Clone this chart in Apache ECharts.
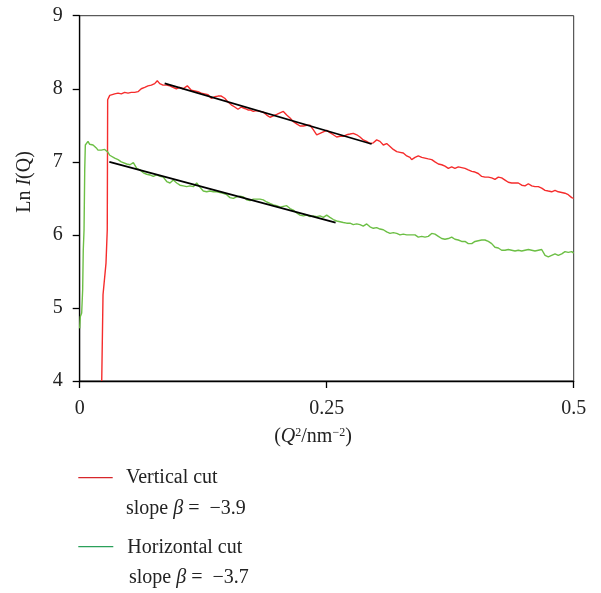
<!DOCTYPE html>
<html>
<head>
<meta charset="utf-8">
<script src="https://cdn.jsdelivr.net/npm/echarts@6/dist/echarts.min.js"></script>
<style>
html,body{margin:0;padding:0;background:#fff;}
#chart{width:601px;height:593px;}
</style>
</head>
<body>
<div id="chart"></div>
<script>
// Tick values
const xTicks = [0, 0.25, 0.5];
const yTicks = [4, 5, 6, 7, 8, 9];

// Vertical cut (red)
const redQ2 = [0.0223,0.0236,0.0266,0.0279,0.0283,0.0304,0.0320,0.0354,0.0388,0.0421,0.0455,0.0489,0.0522,0.0557,0.0590,0.0623,0.0658,0.0691,0.0725,0.0759,0.0785,0.0810,0.0843,0.0877,0.0911,0.0944,0.0978,0.1012,0.1046,0.1089,0.1130,0.1164,0.1197,0.1231,0.1265,0.1299,0.1332,0.1366,0.1400,0.1433,0.1468,0.1501,0.1534,0.1569,0.1602,0.1636,0.1670,0.1703,0.1724,0.1757,0.1791,0.1825,0.1858,0.1893,0.1926,0.1960,0.1994,0.2027,0.2061,0.2095,0.2129,0.2162,0.2196,0.2230,0.2263,0.2298,0.2331,0.2364,0.2399,0.2432,0.2466,0.2500,0.2533,0.2567,0.2601,0.2635,0.2668,0.2702,0.2736,0.2769,0.2804,0.2837,0.2870,0.2905,0.2938,0.2972,0.3006,0.3039,0.3073,0.3107,0.3141,0.3174,0.3209,0.3242,0.3275,0.3310,0.3343,0.3360,0.3394,0.3427,0.3462,0.3495,0.3528,0.3563,0.3596,0.3630,0.3664,0.3697,0.3731,0.3765,0.3798,0.3832,0.3866,0.3900,0.3933,0.3968,0.4001,0.4034,0.4069,0.4102,0.4136,0.4170,0.4203,0.4237,0.4271,0.4305,0.4338,0.4372,0.4406,0.4439,0.4474,0.4507,0.4541,0.4575,0.4608,0.4642,0.4676,0.4710,0.4743,0.4777,0.4811,0.4844,0.4879,0.4912,0.4945,0.4980,0.5000];
const redLnI = [4.00,5.18,5.61,6.07,7.85,7.91,7.90,7.93,7.94,7.93,7.95,7.94,7.95,7.95,7.96,8.00,8.02,8.04,8.05,8.07,8.11,8.07,8.05,8.05,8.04,8.02,8.00,8.02,8.00,8.04,7.98,7.97,7.96,7.94,7.93,7.92,7.87,7.89,7.90,7.90,7.87,7.82,7.78,7.75,7.72,7.75,7.73,7.71,7.71,7.69,7.70,7.69,7.68,7.64,7.61,7.63,7.65,7.67,7.69,7.64,7.60,7.55,7.52,7.49,7.49,7.50,7.50,7.44,7.37,7.39,7.41,7.43,7.40,7.37,7.34,7.35,7.35,7.37,7.38,7.39,7.37,7.34,7.30,7.28,7.25,7.26,7.30,7.28,7.23,7.25,7.21,7.17,7.14,7.13,7.12,7.08,7.06,7.03,7.06,7.08,7.06,7.05,7.04,7.03,7.00,6.97,6.96,6.94,6.91,6.93,6.91,6.93,6.92,6.91,6.89,6.87,6.86,6.84,6.80,6.79,6.79,6.78,6.76,6.79,6.78,6.75,6.72,6.71,6.71,6.71,6.68,6.67,6.70,6.67,6.66,6.66,6.64,6.61,6.60,6.59,6.61,6.59,6.58,6.57,6.55,6.51,6.50];

// Horizontal cut (green)
const greenQ2 = [0.0000,0.0006,0.0020,0.0030,0.0036,0.0044,0.0051,0.0057,0.0067,0.0084,0.0101,0.0117,0.0135,0.0152,0.0168,0.0185,0.0202,0.0219,0.0236,0.0253,0.0269,0.0286,0.0304,0.0320,0.0354,0.0388,0.0421,0.0441,0.0476,0.0509,0.0543,0.0577,0.0610,0.0644,0.0678,0.0712,0.0745,0.0779,0.0813,0.0846,0.0881,0.0914,0.0947,0.0982,0.1015,0.1049,0.1083,0.1116,0.1150,0.1184,0.1218,0.1251,0.1285,0.1319,0.1352,0.1387,0.1420,0.1453,0.1488,0.1521,0.1555,0.1589,0.1623,0.1656,0.1690,0.1724,0.1757,0.1791,0.1825,0.1858,0.1893,0.1926,0.1960,0.1994,0.2027,0.2061,0.2095,0.2129,0.2162,0.2196,0.2230,0.2263,0.2298,0.2331,0.2364,0.2399,0.2432,0.2466,0.2500,0.2533,0.2567,0.2601,0.2635,0.2668,0.2702,0.2736,0.2769,0.2804,0.2837,0.2870,0.2905,0.2938,0.2972,0.3006,0.3039,0.3073,0.3107,0.3141,0.3174,0.3209,0.3242,0.3275,0.3310,0.3343,0.3360,0.3394,0.3427,0.3462,0.3495,0.3528,0.3563,0.3596,0.3630,0.3664,0.3697,0.3731,0.3765,0.3798,0.3832,0.3866,0.3900,0.3933,0.3968,0.4001,0.4034,0.4069,0.4102,0.4136,0.4170,0.4203,0.4237,0.4271,0.4305,0.4338,0.4372,0.4406,0.4439,0.4474,0.4507,0.4541,0.4575,0.4608,0.4642,0.4676,0.4710,0.4743,0.4777,0.4811,0.4844,0.4879,0.4912,0.4945,0.4980,0.5000];
const greenLnI = [4.72,4.88,4.93,5.25,5.79,6.07,6.90,7.23,7.25,7.28,7.24,7.26,7.23,7.22,7.19,7.16,7.14,7.16,7.14,7.17,7.15,7.13,7.09,7.07,7.05,7.03,7.00,6.98,6.97,6.96,6.99,6.91,6.89,6.85,6.83,6.82,6.80,6.82,6.80,6.79,6.73,6.71,6.75,6.71,6.68,6.67,6.66,6.67,6.66,6.71,6.65,6.60,6.59,6.60,6.59,6.59,6.58,6.57,6.55,6.51,6.50,6.52,6.53,6.52,6.48,6.47,6.49,6.49,6.49,6.48,6.45,6.43,6.41,6.40,6.38,6.39,6.40,6.36,6.34,6.30,6.27,6.26,6.27,6.25,6.26,6.25,6.26,6.24,6.27,6.24,6.21,6.19,6.18,6.17,6.16,6.16,6.14,6.15,6.14,6.12,6.15,6.11,6.09,6.10,6.08,6.07,6.04,6.02,6.03,6.02,6.00,6.01,6.00,6.00,5.98,6.00,5.97,5.98,5.97,5.98,6.02,6.01,5.98,5.95,5.94,5.95,5.97,5.94,5.93,5.91,5.91,5.88,5.88,5.91,5.92,5.93,5.93,5.91,5.88,5.83,5.82,5.79,5.79,5.80,5.79,5.78,5.79,5.78,5.79,5.80,5.79,5.78,5.79,5.80,5.72,5.70,5.72,5.74,5.72,5.74,5.77,5.76,5.77,5.75];

// Linear fits (endpoints)
const redFitQ2 = [0.086, 0.2955];
const redFitLnI = [8.075, 7.244];
const greenFitQ2 = [0.030, 0.259];
const greenFitLnI = [7.00, 6.167];

// Legend texts
const legendNames = ['Vertical cut', 'Horizontal cut'];
const slopes = ['−3.9', '−3.7'];

const pair = (xs, ys) => xs.map((x, i) => [x, ys[i]]);
const FONT = '"Liberation Serif", "DejaVu Serif", serif';
const FS = 20;
const TXT = '#222';

const chart = echarts.init(document.getElementById('chart'), null, {renderer: 'canvas'});
chart.setOption({
  animation: false,
  backgroundColor: '#fff',
  textStyle: {fontFamily: FONT},
  grid: {left: 79.7, right: 27.3, top: 15.7, bottom: 212, show: true, borderColor: '#333', borderWidth: 1},
  xAxis: {
    type: 'value', min: 0, max: 0.5, interval: 0.25,
    axisLine: {show: true, lineStyle: {color: '#000', width: 1.3}},
    axisTick: {show: true, length: 7, lineStyle: {color: '#000', width: 1.3}},
    axisLabel: {margin: 18, color: TXT, fontSize: FS, fontFamily: FONT,
      formatter: v => (xTicks.indexOf(v) >= 0 ? String(v) : '')},
    splitLine: {show: false}
  },
  yAxis: {
    type: 'value', min: 4, max: 9, interval: 1,
    axisLine: {show: true, lineStyle: {color: '#000', width: 1.3}},
    axisTick: {show: true, length: 7, lineStyle: {color: '#000', width: 1.3}},
    axisLabel: {margin: 17, color: TXT, fontSize: FS, fontFamily: FONT,
      formatter: v => (yTicks.indexOf(v) >= 0 ? String(v) : '')},
    splitLine: {show: false}
  },
  series: [
    {type: 'line', data: pair(redQ2, redLnI), showSymbol: false, lineStyle: {color: '#f52c2c', width: 1.4}, z: 2},
    {type: 'line', data: pair(greenQ2, greenLnI), showSymbol: false, lineStyle: {color: '#6cbf45', width: 1.4}, z: 2},
    {type: 'line', data: pair(redFitQ2, redFitLnI), showSymbol: false, lineStyle: {color: '#000', width: 1.8}, z: 3},
    {type: 'line', data: pair(greenFitQ2, greenFitLnI), showSymbol: false, lineStyle: {color: '#000', width: 1.8}, z: 3}
  ],
  graphic: [
    {type: 'text', x: 25, y: 182, rotation: Math.PI / 2,
      style: {text: '{r|Ln }{i|I}{r|(Q)}', align: 'center', verticalAlign: 'middle',
        rich: {r: {fontSize: FS, fontFamily: FONT, fill: TXT}, i: {fontSize: FS, fontFamily: FONT, fontStyle: 'italic', fill: TXT}}}},
    {type: 'text', x: 313, y: 437,
      style: {text: '{r|(}{i|Q}{s|2}{r|/nm}{s|−2}{r|)}', align: 'center', verticalAlign: 'middle',
        rich: {r: {fontSize: FS, fontFamily: FONT, fill: TXT}, i: {fontSize: FS, fontFamily: FONT, fontStyle: 'italic', fill: TXT},
          s: {fontSize: 12, fontFamily: FONT, fill: TXT, verticalAlign: 'top'}}}},
    {type: 'line', shape: {x1: 78.3, y1: 477.7, x2: 112.7, y2: 477.7}, style: {stroke: '#d7262b', lineWidth: 1.2}},
    {type: 'text', x: 126, y: 477.7, style: {text: legendNames[0], fontSize: FS, fontFamily: FONT, fill: TXT, verticalAlign: 'middle'}},
    {type: 'text', x: 126, y: 509, style: {text: '{r|slope }{i|β}{r| =  ' + slopes[0] + '}', verticalAlign: 'middle',
      rich: {r: {fontSize: FS, fontFamily: FONT, fill: TXT}, i: {fontSize: FS, fontFamily: FONT, fontStyle: 'italic', fill: TXT}}}},
    {type: 'line', shape: {x1: 78.3, y1: 546.7, x2: 113.3, y2: 546.7}, style: {stroke: '#2ba05a', lineWidth: 1.2}},
    {type: 'text', x: 127.3, y: 547.5, style: {text: legendNames[1], fontSize: FS, fontFamily: FONT, fill: TXT, verticalAlign: 'middle'}},
    {type: 'text', x: 129, y: 578, style: {text: '{r|slope }{i|β}{r| =  ' + slopes[1] + '}', verticalAlign: 'middle',
      rich: {r: {fontSize: FS, fontFamily: FONT, fill: TXT}, i: {fontSize: FS, fontFamily: FONT, fontStyle: 'italic', fill: TXT}}}}
  ]
});
</script>
</body>
</html>
